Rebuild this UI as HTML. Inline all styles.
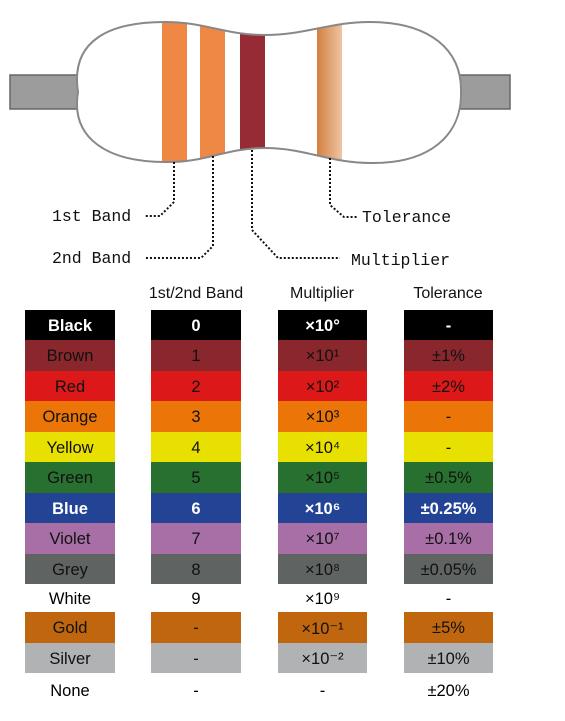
<!DOCTYPE html>
<html><head><meta charset="utf-8"><style>
body{margin:0;width:565px;height:721px;background:#fff;position:relative;overflow:hidden;font-family:"Liberation Sans",Arial,sans-serif}
.h{position:absolute;top:285px;font-size:16px;color:#111;text-align:center;width:130px}
.c{position:absolute;font-size:16.5px;text-align:center;display:flex;align-items:center;justify-content:center;padding-top:2px;box-sizing:border-box}
</style></head><body>
<svg width="565" height="280" style="position:absolute;left:0;top:0">
<defs><linearGradient id="tg" x1="0" x2="1"><stop offset="0" stop-color="#d2813f"/><stop offset="1" stop-color="#efc4a4"/></linearGradient>
<clipPath id="bc"><path d="M78,92 C70,40 110,22 165,22 C205,22 225,35 265,35 C305,35 330,22 370,22 C430,22 462,50 461,92 C462,135 430,164 370,163 C330,163 305,148 265,148 C225,148 205,163 165,162 C110,162 70,140 78,92Z"/></clipPath></defs>
<rect x="10" y="75" width="80" height="34" fill="#9c9c9c" stroke="#666" stroke-width="1.5"/>
<rect x="445" y="75" width="65" height="34" fill="#9c9c9c" stroke="#666" stroke-width="1.5"/>
<path d="M78,92 C70,40 110,22 165,22 C205,22 225,35 265,35 C305,35 330,22 370,22 C430,22 462,50 461,92 C462,135 430,164 370,163 C330,163 305,148 265,148 C225,148 205,163 165,162 C110,162 70,140 78,92Z" fill="#fff"/>
<g clip-path="url(#bc)">
<rect x="162" y="0" width="25" height="200" fill="#ef8844"/>
<rect x="200" y="0" width="25" height="200" fill="#ef8844"/>
<rect x="240" y="0" width="25" height="200" fill="#962b36"/>
<rect x="317" y="0" width="25" height="200" fill="url(#tg)"/>
</g>
<path d="M78,92 C70,40 110,22 165,22 C205,22 225,35 265,35 C305,35 330,22 370,22 C430,22 462,50 461,92 C462,135 430,164 370,163 C330,163 305,148 265,148 C225,148 205,163 165,162 C110,162 70,140 78,92Z" fill="none" stroke="#888" stroke-width="2"/>
<g fill="none" stroke="#111" stroke-width="2" stroke-dasharray="2,2">
<path d="M174,162 V202 L160,216 H144"/>
<path d="M213,156 V246 L201,258 H144"/>
<path d="M252,150 V230 L278,258 H340"/>
<path d="M330,158 V205 L344,217 H358"/>
</g>
<g font-family="Liberation Mono,monospace" font-size="16.5" fill="#111">
<text x="52" y="221">1st Band</text>
<text x="52" y="263">2nd Band</text>
<text x="362" y="222">Tolerance</text>
<text x="351" y="265">Multiplier</text>
</g>
</svg>
<div class="h" style="left:131px">1st/2nd Band</div>
<div class="h" style="left:257px">Multiplier</div>
<div class="h" style="left:383px">Tolerance</div>
<div id="tbl"></div>
<script>
const names=["Black","Brown","Red","Orange","Yellow","Green","Blue","Violet","Grey","White","Gold","Silver","None"];
const digits=["0","1","2","3","4","5","6","7","8","9","-","-","-"];
const mults=["×10°","×10¹","×10²","×10³","×10⁴","×10⁵","×10⁶","×10⁷","×10⁸","×10⁹","×10⁻¹","×10⁻²","-"];
const tols=["-","±1%","±2%","-","-","±0.5%","±0.25%","±0.1%","±0.05%","-","±5%","±10%","±20%"];
const colors=["#000","#89272c","#dd1818","#ec7507","#e8e000","#287030","#234395","#a86ea6","#5f6362","#fff","#c0660f","#b1b2b3","#fff"];
const textCol=["#fff","#111","#111","#111","#111","#111","#fff","#111","#111","#000","#111","#111","#000"];
const rowTops=[310,340,371,401,432,462,493,523,554,584,612,643,673];
const cols=[[25,90],[151,90],[278,89],[404,89]];
const tbl=document.getElementById('tbl');
names.forEach((n,i)=>{
 const vals=[n,digits[i],mults[i],tols[i]];
 const h=(i<12?rowTops[i+1]:708)-rowTops[i];
 vals.forEach((v,j)=>{
  const d=document.createElement('div');
  d.className='c';
  
  
  d.style.left=cols[j][0]+'px';d.style.width=cols[j][1]+'px';
  d.style.top=rowTops[i]+'px';d.style.height=h+'px';
  d.style.background=colors[i];d.style.color=textCol[i];
  if(textCol[i]==='#fff')d.style.fontWeight='bold';
  d.textContent=v;
  tbl.appendChild(d);
 });
});
</script>
</body></html>
